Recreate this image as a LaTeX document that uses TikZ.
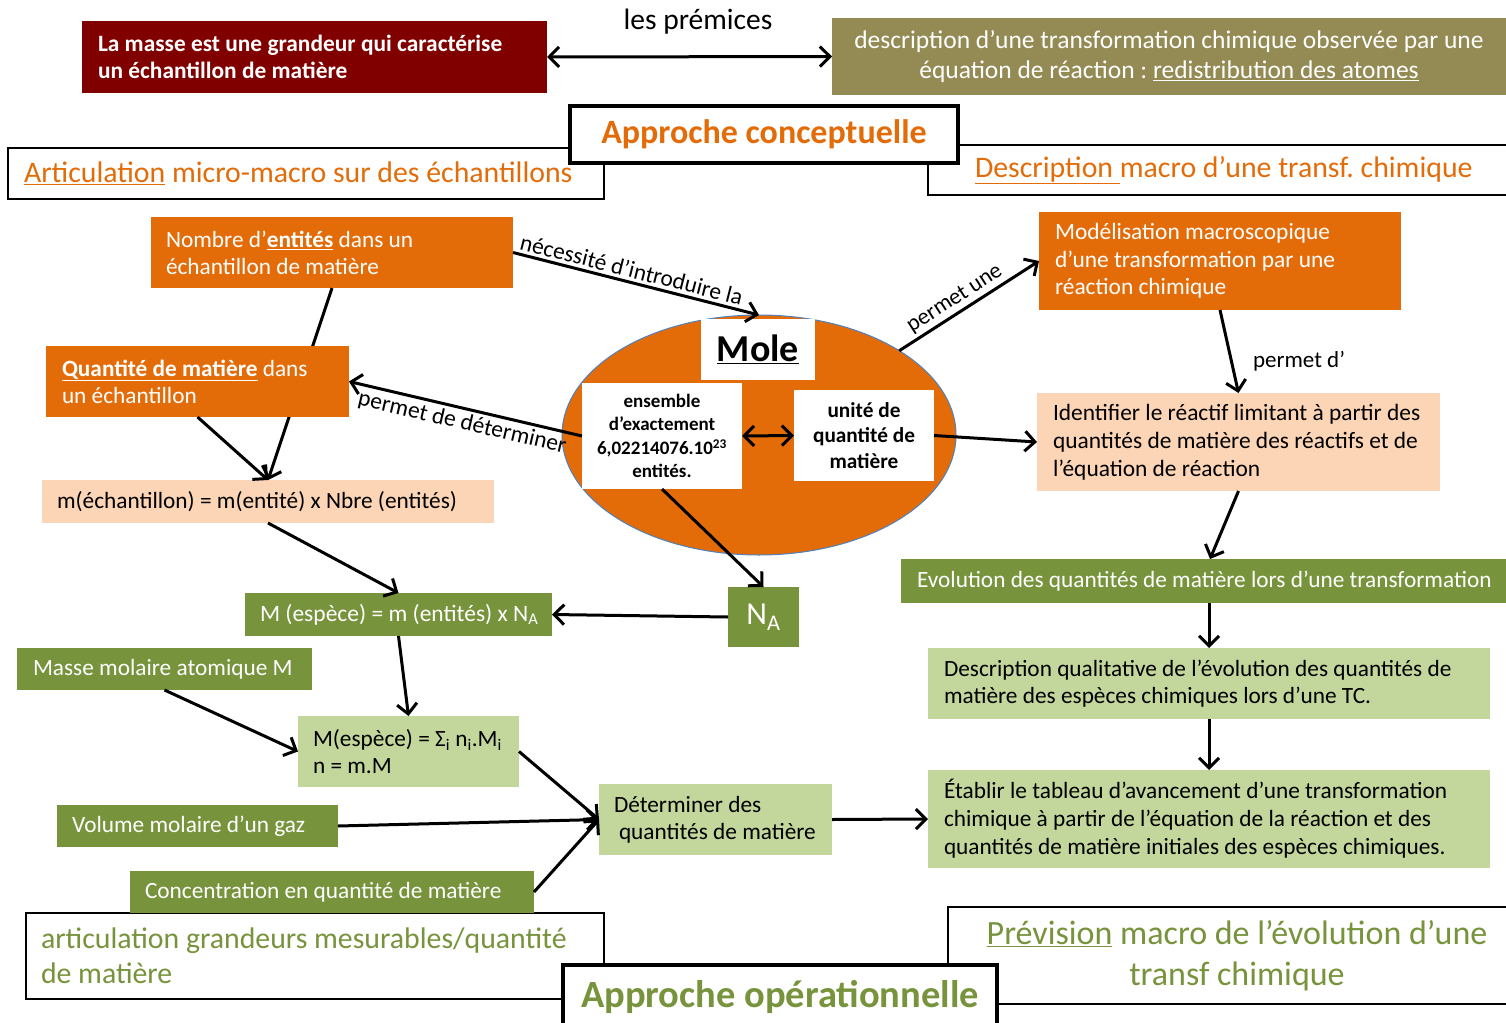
\documentclass[tikz,border=0pt]{standalone}
\usepackage{fontspec}
\setmainfont{Carlito}
\usetikzlibrary{arrows.meta,shapes.geometric}
\definecolor{cdarkred}{HTML}{800000}
\definecolor{colive}{HTML}{948A54}
\definecolor{corange}{HTML}{E36C09}
\definecolor{cpeach}{HTML}{FBD5B5}
\definecolor{cgreen}{HTML}{77933C}
\definecolor{clgreen}{HTML}{C3D69B}
\definecolor{cblue}{HTML}{4F81BD}
\newcommand\myfs[2]{\fontsize{#1}{#2}\selectfont}
\frenchspacing
\hbadness=10000
\hfuzz=50pt
\begin{document}
\begin{tikzpicture}[x=1pt,y=-1pt,
  box/.style={anchor=north west, inner ysep=0pt, inner xsep=15pt, outer sep=0pt, align=flush left, font=\myfs{23.3}{27}},
  frame/.style={box, draw=black, line width=1.3pt, fill=white},
  thick frame/.style={box, draw=black, line width=4pt, fill=white, align=flush center, inner xsep=0pt},
  arr/.style={line width=3pt, -{Straight Barb[length=10pt,width=20pt]}},
  rarr/.style={line width=3pt, {Straight Barb[length=10pt,width=20pt]}-},
  darr/.style={line width=3pt, {Straight Barb[length=10pt,width=20pt]}-{Straight Barb[length=10pt,width=20pt]}},
  lbl/.style={font=\myfs{23.4}{26}, inner sep=3pt}
]
\useasboundingbox (0,0) rectangle (1506,1022);
\clip (0,0) rectangle (1506,1022);

% --- top premises
\node[box, fill=cdarkred, text=white, font=\bfseries\myfs{23.4}{27}, text width=433pt, inner xsep=16pt, minimum height=72pt] (masse) at (82,21)
  {\mbox{La masse est une grandeur qui caractérise}\\un échantillon de matière};
\node[box, fill=colive, text=white, align=flush center, font=\myfs{25.5}{30}, text width=644pt, minimum height=77pt] (desc) at (832,18)
  {\mbox{description d’une transformation chimique observée par une}\\\mbox{équation de réaction : \underline{redistribution des atomes}}};
\node[font=\myfs{29.5}{32}, inner sep=0pt] (prem) at (698,22) {les prémices};
\draw[darr] (masse.east) -- (desc.west);

% --- section titles (conceptual)
\node[frame, text=corange, font=\myfs{29.8}{32}, text width=564pt, inner xsep=16pt, minimum height=51pt] (artic) at (8,148)
  {\mbox{\underline{Articulation} micro-macro sur des échantillons}};
\node[frame, text=corange, font=\myfs{29.8}{32}, text width=540pt, inner xsep=47pt, minimum height=50pt] (descmacro) at (928,145)
  {\mbox{\underline{Description\ }macro d’une transf. chimique}};
\node[thick frame, text=corange, font=\bfseries\myfs{34}{36}, text width=388pt, minimum height=57pt] (appc) at (570,106)
  {\mbox{Approche conceptuelle}};

% --- left column
\node[box, fill=corange, text=white, text width=332pt, minimum height=71pt] (nombre) at (151,217)
  {Nombre d’\underline{\textbf{entités}} dans un\\échantillon de matière};
\node[box, fill=cpeach, text=black, text width=422pt, minimum height=43pt] (mech) at (42,480)
  {\mbox{m(échantillon) = m(entité) x Nbre (entités)}};
\draw[arr] (nombre.south) -- (mech.north);
\node[box, fill=corange, text=white, text width=271pt, inner xsep=16pt, minimum height=71pt] (quant) at (46,346)
  {\mbox{\underline{\textbf{Quantité de matière}} dans}\\un échantillon};
\draw[arr] (quant.south) -- (mech.north);

% --- Mole ellipse
\node[ellipse, fill=corange, draw=cblue, line width=1pt, minimum width=394pt, minimum height=240pt, inner sep=0pt, outer sep=0pt] (ell) at (759,435) {};
\node[box, fill=white, align=flush center, inner xsep=0pt, text width=114pt, minimum height=61pt, font=\bfseries\myfs{38}{42}] (mole) at (701,319)
  {\underline{Mole}};
\node[box, fill=white, align=flush center, inner xsep=0pt, text width=160pt, minimum height=106pt, font=\bfseries\myfs{19}{23.5}] (ens) at (582,383)
  {ensemble\\d’exactement\\6,02214076.10\textsuperscript{23}\\entités.};
\node[box, fill=white, align=flush center, inner xsep=0pt, text width=140pt, minimum height=91pt, font=\bfseries\myfs{21.3}{25.5}] (unite) at (794,390)
  {unité de\\quantité de\\matière};
\draw[darr] (ens.east) -- (unite.west);
\draw[arr] (nombre.east) -- node[lbl, sloped, above, pos=0.47] {nécessité d’introduire la} (ell.north);
\draw[rarr] (quant.east) -- node[lbl, sloped, below, font=\myfs{23.5}{26}] {permet de déterminer} (ens.west);

% --- right column
\node[box, fill=corange, text=white, text width=330pt, inner xsep=16pt, minimum height=98pt, font=\myfs{23.4}{27.5}] (model) at (1039,212)
  {Modélisation macroscopique\\d’une transformation par une\\réaction chimique};
\draw[arr] (ell.31) -- node[lbl, sloped, above, pos=0.45, font=\myfs{22.8}{26}] {permet une} (model.west);
\node[box, fill=cpeach, text=black, text width=371pt, inner xsep=16pt, minimum height=98pt, font=\myfs{23.4}{28}] (ident) at (1037,393)
  {\mbox{Identifier le réactif limitant à partir des}\\\mbox{quantités de matière des réactifs et de}\\l’équation de réaction};
\draw[arr] (model.south) -- (ident.north);
\node[font=\myfs{23}{26}, inner sep=0pt] (pd) at (1299,361) {permet d’};
\draw[arr] (unite.east) -- (ident.west);
\node[box, fill=cgreen, text=white, text width=573pt, inner xsep=16pt, minimum height=44pt] (evol) at (901,559)
  {\mbox{Evolution des quantités de matière lors d’une transformation}};
\draw[arr] (ident.south) -- ([xshift=6.5pt]evol.north);
\node[box, fill=clgreen, text=black, text width=530pt, inner xsep=16pt, minimum height=71pt] (descq) at (928,648)
  {\mbox{Description qualitative de l’évolution des quantités de}\\\mbox{matière des espèces chimiques lors d’une TC.}};
\draw[arr] (evol.south -| descq.north) -- (descq.north);
\node[box, fill=clgreen, text=black, text width=530pt, inner xsep=16pt, minimum height=98pt, font=\myfs{23.3}{28}] (etab) at (928,770)
  {\mbox{Établir le tableau d’avancement d’une transformation}\\\mbox{chimique à partir de l’équation de la réaction et des}\\\mbox{quantités de matière initiales des espèces chimiques.}};
\draw[arr] (descq.south) -- (etab.north);

% --- bottom section frames
\node[frame, text=cgreen, font=\myfs{29.8}{35}, text width=548pt, minimum height=86pt] (artgr) at (26,913)
  {\mbox{articulation grandeurs mesurables/quantité}\\de matière};
\node[frame, align=flush center, text=cgreen, font=\myfs{34}{41}, text width=548pt, minimum height=97pt] (prev) at (948,907)
  {\mbox{\underline{Prévision} macro de l’évolution d’une}\\transf chimique};

% --- operational part
\node[box, fill=cgreen, text=white, text width=277pt, minimum height=43pt, font=\myfs{23.5}{27}] (mesp) at (245,593)
  {\mbox{M (espèce) = m (entités) x N\textsubscript{A}}};
\node[box, fill=cgreen, text=white, align=flush center, inner xsep=0pt, text width=71pt, minimum height=60pt, font=\myfs{32}{36}] (NA) at (728,587)
  {N\textsubscript{A}};
\draw[arr] (mech.south) -- (mesp.north);
\draw[arr] (ens.south) -- (NA.north);
\draw[arr] (NA.west) -- (mesp.east);
\node[box, fill=cgreen, text=white, text width=263pt, inner xsep=16pt, minimum height=42pt] (massem) at (17,648)
  {\mbox{Masse molaire atomique M}};
\node[box, fill=clgreen, text=black, text width=191pt, minimum height=71pt] (sigma) at (298,716)
  {\mbox{M(espèce) = Σ\textsubscript{i} n\textsubscript{i}.M\textsubscript{i}}\\n = m.M};
\draw[arr] (mesp.south) -- (sigma.north);
\draw[arr] (massem.south) -- (sigma.west);
\node[box, fill=cgreen, text=white, text width=251pt, minimum height=42pt] (volume) at (57,805)
  {\mbox{Volume molaire d’un gaz}};
\node[box, fill=cgreen, text=white, text width=374pt, minimum height=42pt] (conc) at (130,871)
  {\mbox{Concentration en quantité de matière}};
\node[box, fill=clgreen, text=black, text width=203pt, minimum height=71pt] (determ) at (599,784)
  {Déterminer des\\\mbox{\hspace*{5pt}quantités de matière}};
\draw[arr] (sigma.east) -- (determ.west);
\draw[arr] (volume.east) -- (determ.west);
\draw[arr] (conc.east) -- (determ.west);
\draw[arr] (determ.east) -- (etab.west);

\node[thick frame, text=cgreen, font=\bfseries\myfs{38.5}{40}, text width=434pt, minimum height=64pt] (appo) at (563,965)
  {\mbox{Approche opérationnelle}};
\end{tikzpicture}
\end{document}
